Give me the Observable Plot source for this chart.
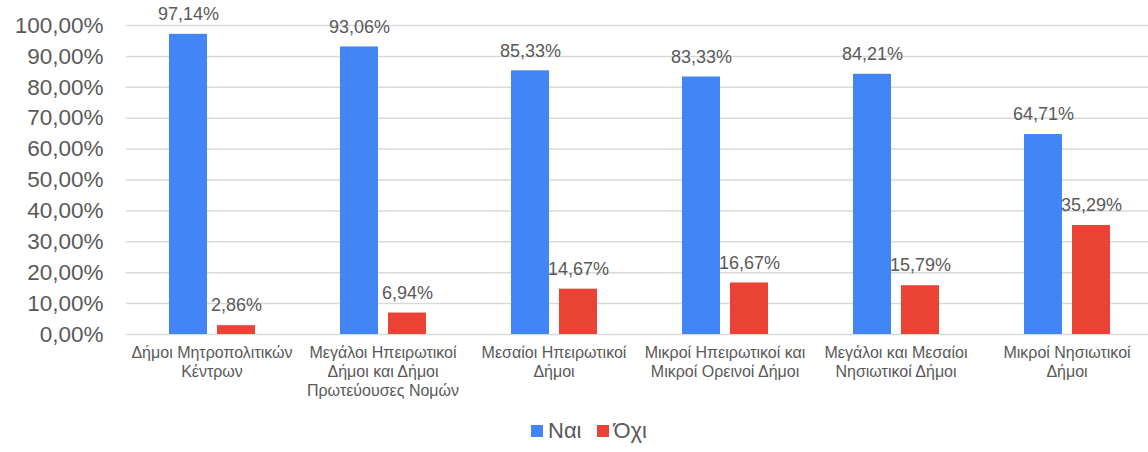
<!DOCTYPE html>
<html>
<head>
<meta charset="utf-8">
<script src="https://cdn.jsdelivr.net/npm/d3@7"></script>
<script src="https://cdn.jsdelivr.net/npm/@observablehq/plot@0.6"></script>
<style>
  html, body { margin: 0; padding: 0; background: #fff; }
  #chart { width: 1148px; font-family: "Liberation Sans", Arial, sans-serif; overflow: hidden; }
  .legend { height: 42px; display: flex; justify-content: flex-start; align-items: center; font-size: 22px; color: #595959; padding-left: 531px; box-sizing: border-box; }
  .legend span.sw { display: inline-block; width: 12px; height: 12px; margin-right: 5px; }
  .legend .item { display: flex; align-items: center; margin-right: 15px; }
</style>
</head>
<body>
<div id="chart"></div>
<script>
const categories = [
  "Δήμοι Μητροπολιτικών Κέντρων",
  "Μεγάλοι Ηπειρωτικοί Δήμοι και Δήμοι Πρωτεύουσες Νομών",
  "Μεσαίοι Ηπειρωτικοί Δήμοι",
  "Μικροί Ηπειρωτικοί και Μικροί Ορεινοί Δήμοι",
  "Μεγάλοι και Μεσαίοι Νησιωτικοί Δήμοι",
  "Μικροί Νησιωτικοί Δήμοι"
];
const categoryLabels = [
  "Δήμοι Μητροπολιτικών\nΚέντρων",
  "Μεγάλοι Ηπειρωτικοί\nΔήμοι και Δήμοι\nΠρωτεύουσες Νομών",
  "Μεσαίοι Ηπειρωτικοί\nΔήμοι",
  "Μικροί Ηπειρωτικοί και\nΜικροί Ορεινοί Δήμοι",
  "Μεγάλοι και Μεσαίοι\nΝησιωτικοί Δήμοι",
  "Μικροί Νησιωτικοί\nΔήμοι"
];
const seriesNames = ["Ναι", "Όχι"];
const seriesColors = ["#4285F4", "#EA4335"];
const naiValues = [97.14, 93.06, 85.33, 83.33, 84.21, 64.71];
const oxiValues = [2.86, 6.94, 14.67, 16.67, 15.79, 35.29];
const yTicks = [0, 10, 20, 30, 40, 50, 60, 70, 80, 90, 100];

const data = [];
categories.forEach((c, i) => {
  data.push({category: c, series: seriesNames[0], value: naiValues[i]});
  data.push({category: c, series: seriesNames[1], value: oxiValues[i]});
});
const fmt = v => v.toFixed(2).replace(".", ",") + "%";
const labelOf = new Map(categories.map((c, i) => [c, categoryLabels[i]]));

const chart = Plot.plot({
  width: 1148,
  height: 410,
  marginTop: 25,
  marginBottom: 76,
  marginLeft: 124,
  marginRight: -5,
  style: {fontFamily: "'Liberation Sans', Arial, sans-serif", color: "#595959", background: "#fff", overflow: "hidden"},
  fx: {domain: categories, paddingInner: 0, paddingOuter: 0},
  x: {domain: seriesNames, paddingInner: 0.215, paddingOuter: 0.866},
  y: {domain: [0, 100]},
  color: {domain: seriesNames, range: seriesColors},
  marks: [
    Plot.gridY(yTicks, {stroke: "#d9d9d9", strokeOpacity: 1, strokeWidth: 1.5}),
    Plot.barY(data, {fx: "category", x: "series", y: "value", fill: "series"}),
    Plot.text(data, {fx: "category", x: "series", y: "value", text: d => fmt(d.value), dy: -20, fontSize: 18, fill: "#595959"}),
    Plot.axisY(yTicks, {tickSize: 0, tickPadding: 23, fontSize: 22.5, tickFormat: fmt, label: null, fill: "#595959"}),
    Plot.axisX({ticks: [], label: null, tickSize: 0}),
    Plot.axisFx({anchor: "bottom", tickSize: 0, tickPadding: 10, fontSize: 16, lineHeight: 1.18, label: null, tickFormat: c => labelOf.get(c), fill: "#595959", textAnchor: "middle"})
  ]
});
document.getElementById("chart").appendChild(chart);

const legend = document.createElement("div");
legend.className = "legend";
seriesNames.forEach((s, i) => {
  const item = document.createElement("div");
  item.className = "item";
  const sw = document.createElement("span");
  sw.className = "sw";
  sw.style.background = seriesColors[i];
  item.appendChild(sw);
  item.appendChild(document.createTextNode(s));
  legend.appendChild(item);
});
document.getElementById("chart").appendChild(legend);
</script>
</body>
</html>
